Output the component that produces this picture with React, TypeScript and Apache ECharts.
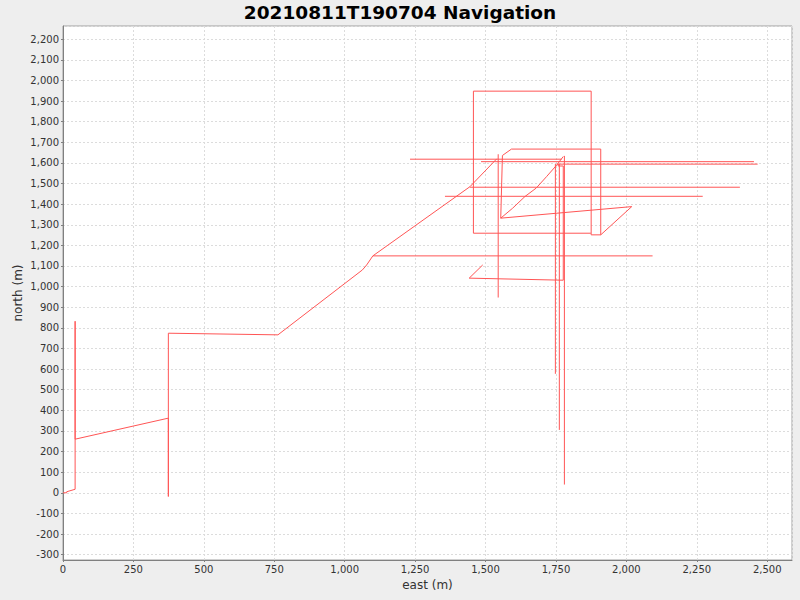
import React, { useEffect, useRef } from "react";
import * as echarts from "echarts";

const TITLE = "20210811T190704 Navigation";
const X_NAME = "east (m)";
const Y_NAME = "north (m)";

// Main transit track [east, north]
const mainTrack: number[][] = [
  [0, 0], [13, 0], [13, 5], [43, 17], [43, 832], [43, 260], [374, 362],
  [374, -18], [374, 774], [763, 766], [1063, 1081], [1078, 1105],
  [1090, 1129], [1100, 1149], [1445, 1485], [1540, 1620],
];

// Survey box and legs
const surveyTrack: number[][] = [
  [1874, 1259], [1457, 1259], [1457, 1948], [1875, 1948], [1875, 1251],
  [1909, 1251], [2019, 1388], [1554, 1332], [1596, 1380], [1640, 1437],
  [1680, 1478], [1717, 1534], [1753, 1590], [1776, 1631],
];
const returnLeg: number[][] = [
  [1909, 1251], [1909, 1667], [1592, 1667], [1560, 1636], [1554, 1332],
];
const approachLeg: number[][] = [
  [1490, 1105], [1442, 1041], [1776, 1031], [1776, 1585], [1758, 1585], [1758, 1595],
];

// Horizontal glitch spikes
const hSpikeNorth = [1618, 1606, 1594, 1482, 1438, 1149];
const hSpikeWest = [1232, 1484, 1753, 1445, 1356, 1100];
const hSpikeEast = [1770, 2453, 2466, 2403, 2271, 2093];

// Vertical glitch spikes
const vSpikeEast = [1545, 1748, 1762, 1780];
const vSpikeTop = [1642, 1595, 1595, 1634];
const vSpikeBottom = [947, 577, 305, 40];

const X_MIN = 0;
const X_MAX = 2588;
const Y_MIN = -326;
const Y_MAX = 2264;

const RED = "#ff5555";

export default function App() {
  const ref = useRef<HTMLDivElement>(null);
  useEffect(() => {
    if (!ref.current) return;
    const chart = echarts.init(ref.current, undefined, { renderer: "svg" });
    const mk = (data: number[][]) => ({
      type: "line",
      data,
      showSymbol: false,
      symbol: "none",
      lineStyle: { color: RED, width: 1 },
      itemStyle: { color: RED },
      silent: true,
    });
    const series: any[] = [mk(mainTrack), mk(surveyTrack), mk(returnLeg), mk(approachLeg)];
    hSpikeNorth.forEach((n, i) => {
      series.push(mk([[hSpikeWest[i], n], [hSpikeEast[i], n]]));
    });
    vSpikeEast.forEach((e, i) => {
      series.push(mk([[e, vSpikeTop[i]], [e, vSpikeBottom[i]]]));
    });
    const fmt = (v: number) => v.toLocaleString("en-US");
    chart.setOption({
      animation: false,
      backgroundColor: "#eeeeee",
      title: {
        text: TITLE,
        left: "center",
        top: -2,
        textStyle: { fontFamily: "DejaVu Sans", fontWeight: "bold", fontSize: 18.5, color: "#000" },
      },
      grid: {
        left: 63, right: 8, top: 26, bottom: 40,
        show: true, backgroundColor: "#ffffff", borderColor: "#a0a0a0", borderWidth: 1,
      },
      xAxis: {
        type: "value",
        min: X_MIN, max: X_MAX, interval: 250,
        name: X_NAME, nameLocation: "middle", nameGap: 19,
        nameTextStyle: { fontFamily: "DejaVu Sans", fontSize: 12, color: "#333" },
        axisLine: { show: true, onZero: false, lineStyle: { color: "#808080" } },
        axisTick: { show: true, length: 2, lineStyle: { color: "#808080" } },
        axisLabel: { fontFamily: "DejaVu Sans", fontSize: 10, color: "#333", margin: 4, showMaxLabel: false, formatter: fmt },
        splitLine: { show: true, lineStyle: { color: "#dcdcdc", type: [2, 2], width: 1 } },
      },
      yAxis: {
        type: "value",
        min: Y_MIN, max: Y_MAX, minInterval: 100, maxInterval: 100,
        name: Y_NAME, nameLocation: "middle", nameGap: 45, nameMoveOverlap: false,
        nameTextStyle: { fontFamily: "DejaVu Sans", fontSize: 12, color: "#333", verticalAlign: "middle" },
        axisLine: { show: true, onZero: false, lineStyle: { color: "#808080" } },
        axisTick: { show: true, length: 2, lineStyle: { color: "#808080" } },
        axisLabel: { fontFamily: "DejaVu Sans", fontSize: 10, color: "#333", margin: 4, showMinLabel: false, showMaxLabel: false, formatter: fmt },
        splitLine: { show: true, lineStyle: { color: "#dcdcdc", type: [2, 2], width: 1 } },
      },
      series,
    });
    return () => chart.dispose();
  }, []);
  return (
    <div
      ref={ref}
      style={{ position: "absolute", left: 0, top: 0, width: 800, height: 600 }}
    />
  );
}
